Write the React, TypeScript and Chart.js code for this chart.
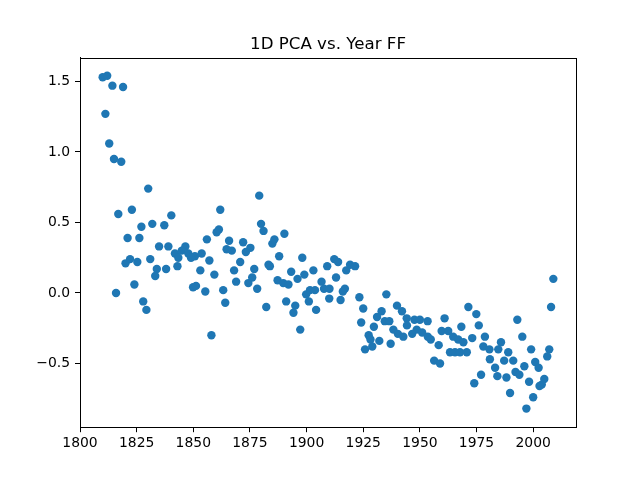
import React, { useEffect, useRef } from "react";
import { Chart, registerables } from "chart.js";

Chart.register(...registerables);

const chartTitle = "1D PCA vs. Year FF";

const years: number[] = [
  1810.0, 1812.0, 1811.2, 1814.3, 1819.0, 1812.9, 1815.0, 1818.2, 1816.9, 1815.9,
  1822.9, 1830.1, 1827.1, 1831.9, 1837.2, 1840.3, 1821.0, 1826.2, 1820.1, 1822.1,
  1825.3, 1831.0, 1824.0, 1827.9, 1829.3, 1833.9, 1833.2, 1838.0, 1834.9, 1839.0,
  1843.0, 1846.5, 1841.9, 1844.9, 1843.4, 1847.8, 1850.7, 1853.7, 1849.0, 1853.1,
  1857.1, 1856.0, 1860.3, 1861.3, 1861.9, 1859.3, 1849.9, 1851.2, 1855.3, 1863.2,
  1864.1, 1858.0, 1865.8, 1864.7, 1867.0, 1872.0, 1875.2, 1873.2, 1870.7, 1868.0,
  1876.9, 1868.9, 1874.3, 1876.0, 1878.2, 1879.1, 1879.9, 1881.0, 1882.2, 1884.9,
  1885.8, 1890.2, 1887.9, 1883.2, 1883.8, 1887.2, 1889.7, 1892.0, 1893.2, 1896.0,
  1899.0, 1903.0, 1898.1, 1891.0, 1895.0, 1894.2, 1897.2, 1899.8, 1901.0, 1901.5,
  1903.7, 1906.6, 1907.7, 1904.2, 1909.1, 1910.1, 1910.0, 1912.2, 1913.9, 1913.0,
  1916.9, 1916.0, 1915.0, 1919.2, 1921.4, 1917.5, 1923.3, 1925.0, 1924.1, 1935.2,
  1939.9, 1942.1, 1944.2, 1944.3, 1933.1, 1931.1, 1934.5, 1936.5, 1929.7, 1927.4,
  1928.2, 1932.1, 1929.0, 1925.8, 1937.1, 1938.3, 1940.3, 1942.7, 1947.6, 1950.0,
  1953.4, 1948.6, 1951.0, 1953.5, 1954.8, 1946.6, 1958.3, 1960.9, 1959.6, 1962.5,
  1968.3, 1971.4, 1956.3, 1958.9, 1964.7, 1966.9, 1969.2, 1973.1, 1963.3, 1965.5,
  1967.7, 1970.7, 1974.9, 1976.0, 1978.7, 1978.0, 1980.7, 1980.9, 1983.2, 1984.2,
  1977.0, 1974.0, 1985.8, 1984.6, 1989.0, 1991.2, 1987.2, 1988.2, 1992.2, 1993.9,
  1996.1, 1989.8, 1993.0, 1995.2, 1999.1, 2000.9, 2002.4, 1998.2, 2000.0, 1997.0,
  2004.9, 2003.8, 2002.8, 2007.1, 2006.2, 2007.9, 2008.9,
];

const pcaValues: number[] = [
  1.53, 1.54, 1.27, 1.47, 1.46, 1.06, 0.95, 0.93, 0.56, 0.0,
  0.59, 0.74, 0.47, 0.49, 0.48, 0.55, 0.39, 0.39, 0.21, 0.24,
  0.22, 0.24, 0.06, -0.06, -0.12, 0.17, 0.12, 0.17, 0.33, 0.33,
  0.19, 0.33, 0.28, 0.3, 0.25, 0.28, 0.26, 0.28, 0.25, 0.16,
  0.23, 0.38, 0.43, 0.45, 0.59, 0.13, 0.04, 0.05, 0.01, 0.02,
  -0.07, -0.3, 0.37, 0.31, 0.3, 0.36, 0.32, 0.29, 0.22, 0.16,
  0.17, 0.08, 0.07, 0.11, 0.03, 0.69, 0.49, 0.44, -0.1, 0.35,
  0.38, 0.42, 0.26, 0.2, 0.19, 0.09, 0.07, 0.06, 0.15, 0.1,
  0.13, 0.16, 0.25, -0.06, -0.09, -0.14, -0.26, -0.01, -0.06, 0.02,
  0.02, 0.08, 0.03, -0.12, 0.19, 0.03, -0.04, 0.24, 0.22, 0.11,
  0.03, 0.01, -0.05, 0.2, 0.19, 0.16, -0.03, -0.11, -0.21, -0.01,
  -0.09, -0.13, -0.18, -0.23, -0.13, -0.17, -0.2, -0.2, -0.24, -0.3,
  -0.33, -0.34, -0.38, -0.4, -0.36, -0.26, -0.29, -0.31, -0.19, -0.19,
  -0.2, -0.26, -0.28, -0.31, -0.33, -0.29, -0.37, -0.18, -0.27, -0.27,
  -0.24, -0.1, -0.48, -0.5, -0.31, -0.33, -0.35, -0.32, -0.42, -0.42,
  -0.42, -0.42, -0.15, -0.23, -0.31, -0.38, -0.4, -0.47, -0.53, -0.59,
  -0.58, -0.64, -0.35, -0.4, -0.42, -0.48, -0.48, -0.6, -0.56, -0.58,
  -0.52, -0.71, -0.19, -0.31, -0.4, -0.49, -0.53, -0.63, -0.74, -0.82,
  -0.61, -0.65, -0.66, -0.4, -0.45, -0.1, 0.1,
];

const xTicks: number[] = [1800, 1825, 1850, 1875, 1900, 1925, 1950, 1975, 2000];
const yTicks: number[] = [-0.5, 0.0, 0.5, 1.0, 1.5];

const FONT = "'DejaVu Sans', sans-serif";

export default function App() {
  const canvasRef = useRef<HTMLCanvasElement | null>(null);

  useEffect(() => {
    const canvas = canvasRef.current;
    if (!canvas) return;

    const framePlugin = {
      id: "frameAndTitle",
      afterDraw(chart: any) {
        const { ctx, chartArea } = chart;
        ctx.save();
        ctx.strokeStyle = "#000";
        ctx.lineWidth = 1;
        ctx.strokeRect(
          Math.round(chartArea.left) + 0.5,
          Math.round(chartArea.top) + 0.5,
          Math.round(chartArea.right) - Math.round(chartArea.left),
          Math.round(chartArea.bottom) - Math.round(chartArea.top)
        );
        ctx.fillStyle = "#000";
        ctx.font = `16.67px ${FONT}`;
        ctx.textAlign = "center";
        ctx.textBaseline = "alphabetic";
        ctx.fillText(chartTitle, (chartArea.left + chartArea.right) / 2, chartArea.top - 8.3);
        ctx.restore();
      },
    };

    const chart = new Chart(canvas, {
      type: "scatter",
      data: {
        datasets: [
          {
            data: years.map((x, i) => ({ x, y: pcaValues[i] })),
            backgroundColor: "#1f77b4",
            borderColor: "#1f77b4",
            borderWidth: 0,
            pointRadius: 4.2,
            pointHoverRadius: 4.2,
          },
        ],
      },
      options: {
        responsive: false,
        animation: false,
        layout: { padding: { top: 57.6, right: 64, left: 0, bottom: 0 } },
        plugins: {
          legend: { display: false },
          title: { display: false },
          tooltip: { enabled: false },
        },
        scales: {
          x: {
            type: "linear",
            min: 1800,
            max: 2018.9,
            afterBuildTicks: (s: any) => {
              s.ticks = xTicks.map((v) => ({ value: v }));
            },
            afterFit: (s: any) => {
              s.height = 52.8;
            },
            ticks: {
              autoSkip: false,
              maxRotation: 0,
              color: "#000",
              padding: 3,
              font: { family: FONT, size: 13.9 },
              callback: (v: any) => String(v),
            },
            grid: {
              drawOnChartArea: false,
              drawTicks: true,
              tickLength: 5,
              color: "#000",
              lineWidth: 1,
            },
            border: { display: true, color: "#000", width: 1 },
          },
          y: {
            type: "linear",
            min: -0.952,
            max: 1.669,
            afterBuildTicks: (s: any) => {
              s.ticks = yTicks.map((v) => ({ value: v }));
            },
            afterFit: (s: any) => {
              s.width = 80;
            },
            ticks: {
              autoSkip: false,
              color: "#000",
              padding: 5,
              font: { family: FONT, size: 13.9 },
              callback: (v: any) => {
                const n = Number(v);
                const t = Math.abs(n).toFixed(1);
                return n < 0 ? "\u2212" + t : t;
              },
            },
            grid: {
              drawOnChartArea: false,
              drawTicks: true,
              tickLength: 5,
              color: "#000",
              lineWidth: 1,
            },
            border: { display: true, color: "#000", width: 1 },
          },
        },
      },
      plugins: [framePlugin],
    });

    return () => {
      chart.destroy();
    };
  }, []);

  return (
    <div style={{ position: "absolute", left: 0, top: 0, width: 640, height: 480, background: "#fff" }}>
      <canvas ref={canvasRef} width={640} height={480} />
    </div>
  );
}
